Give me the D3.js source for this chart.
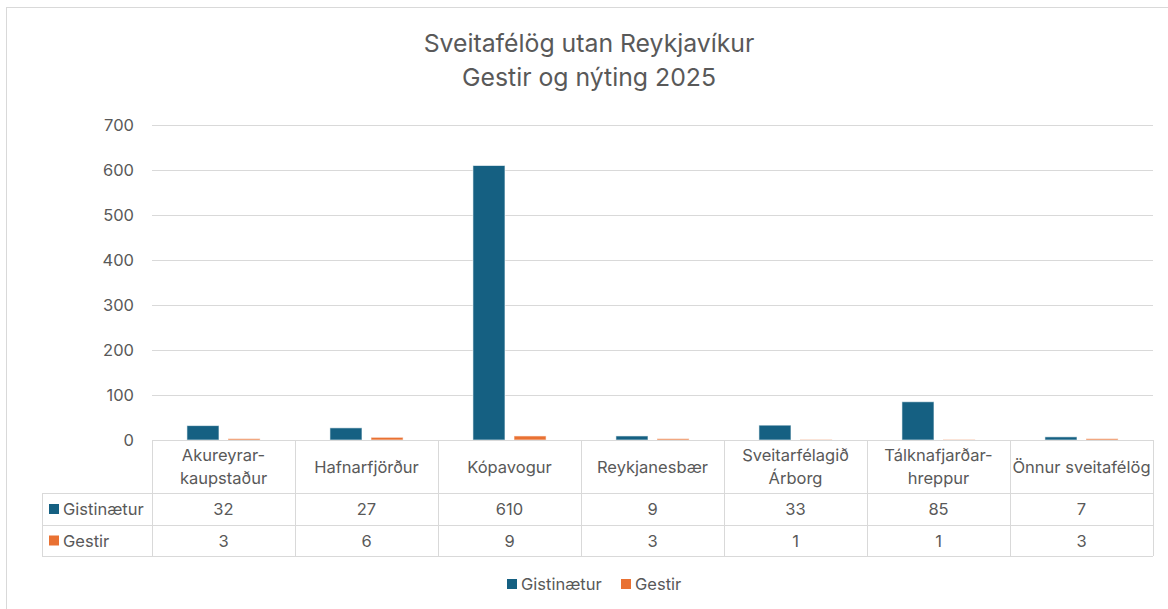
<!DOCTYPE html>
<html>
<head>
<meta charset="utf-8">
<script src="https://cdn.jsdelivr.net/npm/d3@7"></script>
<style>
  body { margin: 0; background: #fff; }
  text { font-family: Inter, "Noto Sans", sans-serif; fill: #595959; }
</style>
</head>
<body>
<div id="canvas"></div>
<script>
// data
var categories = [
  ["Akureyrar-", "kaupstaður"],
  ["Hafnarfjörður"],
  ["Kópavogur"],
  ["Reykjanesbær"],
  ["Sveitarfélagið", "Árborg"],
  ["Tálknafjarðar-", "hreppur"],
  ["Önnur sveitafélög"]
];
var seriesNames = ["Gistinætur", "Gestir"];
var gistinaetur = [32, 27, 610, 9, 33, 85, 7];
var gestir = [3, 6, 9, 3, 1, 1, 3];
var yTicks = [0, 100, 200, 300, 400, 500, 600, 700];
var colors = ["#156082", "#E97132"];

var W = 1168, H = 609;
var plot = {left: 152, right: 1153, top: 125, bottom: 440};
var rowH = [53, 32, 31];   // header, series rows
var tableLeft = 42;
var fs = "16.5px";

var svg = d3.select("#canvas").append("svg")
  .attr("width", W)
  .attr("height", H);

// chart border
svg.append("rect")
  .attr("x", 6.5).attr("y", 7.5)
  .attr("width", W + 10).attr("height", H + 10)
  .attr("fill", "none")
  .attr("stroke", "#d9d9d9");

// title
var title = svg.append("text")
  .attr("text-anchor", "middle")
  .style("font-size", "24.8px");
title.append("tspan").attr("x", 589).attr("y", 52).text("Sveitafélög utan Reykjavíkur");
title.append("tspan").attr("x", 589).attr("y", 86).text("Gestir og nýting 2025");

var keys = categories.map(function (c, i) { return i; });
var x0 = d3.scaleBand()
  .domain(keys)
  .range([plot.left, plot.right]);

var x1 = d3.scaleBand()
  .domain(seriesNames)
  .range([0, x0.bandwidth()])
  .paddingInner(0.22)
  .paddingOuter(0.85);

var y = d3.scaleLinear()
  .domain([0, 700])
  .range([plot.bottom, plot.top]);

// gridlines
svg.append("g")
  .selectAll("line")
  .data(yTicks)
  .enter().append("line")
  .attr("x1", plot.left).attr("x2", plot.right)
  .attr("y1", function (d) { return Math.round(y(d)) + 0.5; })
  .attr("y2", function (d) { return Math.round(y(d)) + 0.5; })
  .attr("stroke", "#d9d9d9");

// y axis labels
const yAxisCall = d3.axisLeft(y).tickValues(yTicks).tickSize(0).tickPadding(0);
var yAx = svg.append("g")
  .attr("transform", "translate(134,0)")
  .call(yAxisCall);
yAx.select(".domain").remove();
yAx.selectAll("text")
  .style("font-size", fs)
  .attr("font-family", null)
  .attr("fill", null);

// bars
var series = [gistinaetur, gestir];
series.forEach(function (vals, si) {
  svg.append("g")
    .selectAll("rect")
    .data(vals)
    .enter().append("rect")
    .attr("x", function (d, i) { return x0(i) + x1(seriesNames[si]); })
    .attr("y", function (d) { return y(d); })
    .attr("width", x1.bandwidth())
    .attr("height", function (d) { return y(0) - y(d); })
    .attr("fill", colors[si])
    .attr("stroke", "rgba(255,255,255,0.6)")
    .attr("stroke-width", 1);
});

// data table
var tbl = svg.append("g").attr("fill", "none").attr("stroke", "#d9d9d9");
var rowY = [plot.bottom, plot.bottom + rowH[0], plot.bottom + rowH[0] + rowH[1], plot.bottom + rowH[0] + rowH[1] + rowH[2]];

// horizontal lines
tbl.append("line").attr("x1", plot.left).attr("x2", plot.right).attr("y1", rowY[0] + 0.5).attr("y2", rowY[0] + 0.5);
[1, 2, 3].forEach(function (r) {
  tbl.append("line").attr("x1", tableLeft).attr("x2", plot.right).attr("y1", rowY[r] + 0.5).attr("y2", rowY[r] + 0.5);
});
// vertical lines
tbl.append("line").attr("x1", tableLeft + 0.5).attr("x2", tableLeft + 0.5).attr("y1", rowY[1]).attr("y2", rowY[3]);
keys.forEach(function (k) {
  var xx = Math.round(x0(k)) + 0.5;
  tbl.append("line").attr("x1", xx).attr("x2", xx).attr("y1", rowY[0]).attr("y2", rowY[3]);
});
tbl.append("line").attr("x1", plot.right + 0.5).attr("x2", plot.right + 0.5).attr("y1", rowY[0]).attr("y2", rowY[3]);

// header text
categories.forEach(function (lines, i) {
  var cx = x0(i) + x0.bandwidth() / 2;
  var cy = rowY[0] + rowH[0] / 2;
  var t = svg.append("text")
    .attr("text-anchor", "middle")
    .style("font-size", fs);
  lines.forEach(function (ln, j) {
    t.append("tspan")
      .attr("x", cx)
      .attr("y", cy + 6 + (j - (lines.length - 1) / 2) * 23)
      .text(ln);
  });
});

// series rows
series.forEach(function (vals, si) {
  var cy = rowY[si + 1] + rowH[si + 1] / 2;
  svg.append("rect")
    .attr("x", 49).attr("y", cy - 5)
    .attr("width", 10).attr("height", 10)
    .attr("fill", colors[si]);
  svg.append("text")
    .attr("x", 63).attr("y", cy + 6)
    .style("font-size", fs)
    .text(seriesNames[si]);
  svg.append("g")
    .selectAll("text")
    .data(vals)
    .enter().append("text")
    .attr("x", function (d, i) { return x0(i) + x0.bandwidth() / 2; })
    .attr("y", cy + 6)
    .attr("text-anchor", "middle")
    .style("font-size", fs)
    .text(function (d) { return d; });
});

// legend
var legend = svg.append("g");
var lx = [507, 621];
seriesNames.forEach(function (name, i) {
  legend.append("rect")
    .attr("x", lx[i]).attr("y", 579)
    .attr("width", 10).attr("height", 10)
    .attr("fill", colors[i]);
  legend.append("text")
    .attr("x", lx[i] + 14).attr("y", 590)
    .style("font-size", fs)
    .text(name);
});
</script>
</body>
</html>
